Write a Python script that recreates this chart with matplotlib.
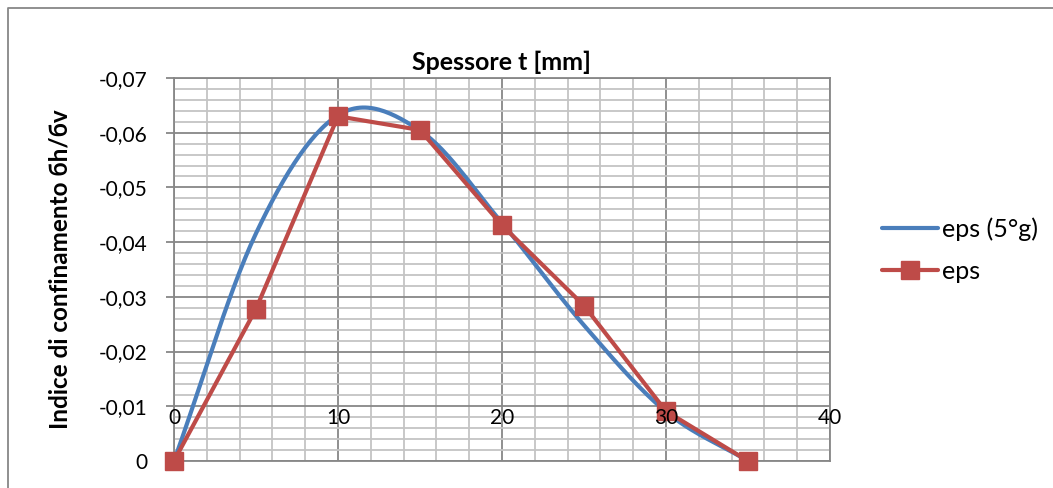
import numpy as np
import matplotlib
matplotlib.use("Agg")
import matplotlib.pyplot as plt
from matplotlib.lines import Line2D
from matplotlib.transforms import blended_transform_factory

# Data
thickness = [0, 5, 10, 15, 20, 25, 30, 35]
eps_5g = [0.0, -0.0416, -0.0632, -0.0604, -0.0435, -0.0248, -0.0090, 0.0]
eps = [0.0, -0.0278, -0.0630, -0.0605, -0.0431, -0.0284, -0.0091, 0.0]

x_ticks = [0, 10, 20, 30, 40]
y_ticks = [0.0, -0.01, -0.02, -0.03, -0.04, -0.05, -0.06, -0.07]
y_tick_labels = ["0", "-0,01", "-0,02", "-0,03", "-0,04", "-0,05", "-0,06", "-0,07"]

title = "Spessore t [mm]"
ylabel = "Indice di confinamento бh/бv"
series_names = ["eps (5°g)", "eps"]

BLUE = "#4A7EBB"
RED = "#BE4B48"
MAJOR = "#878787"
MINOR = "#C4C4C4"
FONT = "Lato"


def smooth(xs, ys, n=30):
    """Catmull-Rom smoothing through the given points (spreadsheet-style smoothed line)."""
    xs = np.asarray(xs, float)
    ys = np.asarray(ys, float)
    px = np.concatenate([[2 * xs[0] - xs[1]], xs, [2 * xs[-1] - xs[-2]]])
    py = np.concatenate([[2 * ys[0] - ys[1]], ys, [2 * ys[-1] - ys[-2]]])
    out_x, out_y = [], []
    t = np.linspace(0, 1, n, endpoint=False)
    for i in range(1, len(px) - 2):
        for arr, out in ((px, out_x), (py, out_y)):
            p0, p1, p2, p3 = arr[i - 1], arr[i], arr[i + 1], arr[i + 2]
            m1 = (p2 - p0) / 2
            m2 = (p3 - p1) / 2
            h00 = 2 * t**3 - 3 * t**2 + 1
            h10 = t**3 - 2 * t**2 + t
            h01 = -2 * t**3 + 3 * t**2
            h11 = t**3 - t**2
            out.extend(h00 * p1 + h10 * m1 + h01 * p2 + h11 * m2)
    out_x.append(xs[-1])
    out_y.append(ys[-1])
    return np.array(out_x), np.array(out_y)


fig = plt.figure(figsize=(10.53, 4.88), dpi=100)
ax = fig.add_axes([174 / 1053, 1 - 461 / 488, 656 / 1053, 383 / 488])

ax.set_xlim(0, 40)
ax.set_ylim(0, -0.07)

# Grid
ax.set_xticks(np.arange(0, 41, 2), minor=True)
ax.set_yticks(np.arange(0, -0.0701, -0.002), minor=True)
ax.grid(which="minor", color=MINOR, lw=1.3, zorder=0)
ax.grid(which="major", color=MAJOR, lw=1.3, zorder=0.5)
ax.tick_params(which="minor", length=0)
ax.set_axisbelow(True)
for s in ax.spines.values():
    s.set_color(MAJOR)
    s.set_linewidth(1.3)

# Ticks: x labels sit inside the plot, drawn above the series
ax.set_xticks(x_ticks)
ax.set_xticklabels([])
ax.tick_params(axis="x", which="major", length=0)
xlab_tr = blended_transform_factory(ax.transData, ax.transAxes)
for v in x_ticks:
    ax.text(v, 0.112, str(v), transform=xlab_tr, ha="center", va="center",
            fontsize=15, family=FONT, zorder=6, clip_on=False)

ax.set_yticks(y_ticks)
ax.set_yticklabels(y_tick_labels, fontsize=15, family=FONT)
ax.tick_params(axis="y", which="major", length=6, width=1.3, color=MAJOR, pad=13)

# Series
sx, sy = smooth(thickness, eps_5g)
ax.plot(sx, sy, color=BLUE, lw=3.0, solid_capstyle="round", zorder=3, clip_on=False)
ax.plot(thickness, eps, color=RED, lw=3.0, marker="s", markersize=13,
        markerfacecolor=RED, markeredgecolor=RED, zorder=4, clip_on=False)

ax.set_title(title, fontsize=18, fontweight="bold", family=FONT, pad=6)
ax.set_ylabel(ylabel, fontsize=17.5, fontweight="bold", family=FONT, labelpad=20)

handles = [
    Line2D([], [], color=BLUE, lw=3.0, solid_capstyle="round"),
    Line2D([], [], color=RED, lw=3.0, marker="s", markersize=13, solid_capstyle="round"),
]
fig.legend(handles, series_names, loc="center left", bbox_to_anchor=(882 / 1053, 1 - 250 / 488),
           frameon=False, prop={"family": FONT, "size": 18}, handlelength=2.25,
           handletextpad=0.16, labelspacing=0.75, borderpad=0, borderaxespad=0)

# Chart-area border (top and left edges)
fig.add_artist(Line2D([8 / 1053, 8 / 1053, 1.0], [0.0, 1 - 8 / 488, 1 - 8 / 488],
                      color=MAJOR, lw=1.3, transform=fig.transFigure))

fig.savefig("out.png", dpi=100)
